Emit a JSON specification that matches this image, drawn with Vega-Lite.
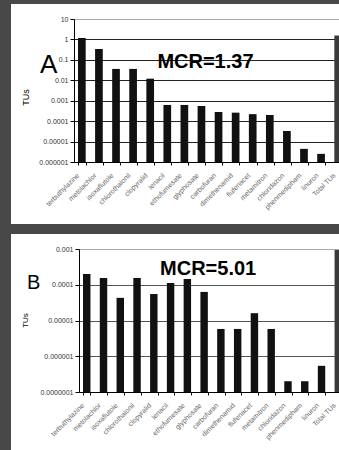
{
  "$schema": "https://vega.github.io/schema/vega-lite/v6.json",
  "background": "#484848",
  "padding": {"left": 8, "top": 4, "right": 0, "bottom": 0},
  "spacing": 10,
  "config": {
    "view": {"fill": "white", "stroke": null},
    "font": "Liberation Sans",
    "axis": {"labelFont": "Liberation Sans", "titleFont": "Liberation Sans"}
  },
  "datasets": {
    "A": [
      {"pesticide": "terbuthylazine", "tu": 1.17},
      {"pesticide": "metolachlor", "tu": 0.34},
      {"pesticide": "isoxaflutole", "tu": 0.036},
      {"pesticide": "chlorothalonil", "tu": 0.036},
      {"pesticide": "clopyralid", "tu": 0.012},
      {"pesticide": "lenacil", "tu": 0.00062},
      {"pesticide": "ethofumesate", "tu": 0.00062},
      {"pesticide": "glyphosate", "tu": 0.00055},
      {"pesticide": "carbofuran", "tu": 0.00028},
      {"pesticide": "dimethenamid", "tu": 0.00026},
      {"pesticide": "flufenacet", "tu": 0.00022},
      {"pesticide": "metamitron", "tu": 0.0002},
      {"pesticide": "chloridazon", "tu": 0.000033},
      {"pesticide": "phenmedipham", "tu": 0.0000044},
      {"pesticide": "linuron", "tu": 0.0000025},
      {"pesticide": "Total TUs", "tu": 1.55}
    ],
    "B": [
      {"pesticide": "terbuthylazine", "tu": 0.0002},
      {"pesticide": "metolachlor", "tu": 0.000155},
      {"pesticide": "isoxaflutole", "tu": 0.000043},
      {"pesticide": "chlorothalonil", "tu": 0.000155},
      {"pesticide": "clopyralid", "tu": 0.000055},
      {"pesticide": "lenacil", "tu": 0.000112},
      {"pesticide": "ethofumesate", "tu": 0.000145},
      {"pesticide": "glyphosate", "tu": 0.000063},
      {"pesticide": "carbofuran", "tu": 0.0000058},
      {"pesticide": "dimethenamid", "tu": 0.0000058},
      {"pesticide": "flufenacet", "tu": 0.000016},
      {"pesticide": "metamitron", "tu": 0.0000058},
      {"pesticide": "chloridazon", "tu": 0.0000002},
      {"pesticide": "phenmedipham", "tu": 0.0000002},
      {"pesticide": "linuron", "tu": 0.00000054},
      {"pesticide": "Total TUs", "tu": 0.00094}
    ]
  },
  "vconcat": [
    {
      "width": 331,
      "height": 220,
      "title": {"text": "A", "fontSize": 26, "fontWeight": "normal", "anchor": "start", "frame": "group", "offset": 0, "dx": 29, "dy": 95, "baseline": "alphabetic", "color": "#000000", "font": "Liberation Sans"},
      "data": {"name": "A"},
      "layer": [
        {
          "mark": {"type": "bar"},
          "encoding": {
            "x": {
              "field": "pesticide", "type": "nominal", "sort": null,
              "scale": {
                "domain": ["terbuthylazine", "metolachlor", "isoxaflutole", "chlorothalonil", "clopyralid", "lenacil", "ethofumesate", "glyphosate", "carbofuran", "dimethenamid", "flufenacet", "metamitron", "chloridazon", "phenmedipham", "linuron", "Total TUs"],
                "range": [63, 331], "paddingInner": 0.55, "paddingOuter": 0.117, "align": 1
              },
              "axis": {
                "title": null, "orient": "bottom", "offset": -62, "labelAngle": -45, "labelAlign": "right", "labelBaseline": "middle",
                "labelFontSize": 7, "labelColor": "#666666", "labelPadding": 9, "labelOffset": -4, "labelOverlap": false,
                "tickBand": "extent", "tickSize": 3, "tickColor": "#000000", "domainColor": "#000000", "grid": false
              }
            },
            "y": {
              "field": "tu", "type": "quantitative",
              "scale": {"type": "log", "domain": [0.000001, 10], "range": [158, 15], "nice": false},
              "axis": {
                "title": "TUs", "offset": -63, "values": [0.000001, 0.00001, 0.0001, 0.001, 0.01, 0.1, 1, 10], "format": "~r",
                "labelFontSize": 7, "labelColor": "#333333", "labelPadding": 2, "labelOverlap": false,
                "tickSize": 4, "tickColor": "#000000", "domainColor": "#000000",
                "grid": true, "gridColor": {"condition": {"test": "datum.value === 10", "value": "#aaaaaa"}, "value": "#222222"},
                "titleFontSize": 9, "titleFontWeight": "normal", "titleColor": "#000000", "titleX": -49, "titleY": 93, "titleAlign": "center", "titleBaseline": "middle", "titleAngle": -90
              }
            },
            "y2": {"datum": 0.000001},
            "color": {"condition": {"test": "datum.pesticide === 'Total TUs'", "value": "#3a3a3a"}, "value": "#111111"}
          }
        },
        {
          "data": {"values": [{"label": "MCR=1.37"}]},
          "mark": {"type": "text", "fontSize": 20, "fontWeight": "bold", "align": "center", "baseline": "alphabetic", "dx": 4, "color": "#000000"},
          "encoding": {
            "x": {"datum": "glyphosate"},
            "y": {"datum": 0.04},
            "text": {"field": "label"}
          }
        }
      ]
    },
    {
      "width": 331,
      "height": 216,
      "title": {"text": "B", "fontSize": 20, "fontWeight": "normal", "anchor": "start", "frame": "group", "offset": 0, "dx": 16, "dy": 75, "baseline": "alphabetic", "color": "#000000", "font": "Liberation Sans"},
      "data": {"name": "B"},
      "layer": [
        {
          "mark": {"type": "bar"},
          "encoding": {
            "x": {
              "field": "pesticide", "type": "nominal", "sort": null,
              "scale": {
                "domain": ["terbuthylazine", "metolachlor", "isoxaflutole", "chlorothalonil", "clopyralid", "lenacil", "ethofumesate", "glyphosate", "carbofuran", "dimethenamid", "flufenacet", "metamitron", "chloridazon", "phenmedipham", "linuron", "Total TUs"],
                "range": [68, 331], "paddingInner": 0.557, "paddingOuter": 0.12, "align": 1
              },
              "axis": {
                "title": null, "orient": "bottom", "offset": -58, "labelAngle": -45, "labelAlign": "right", "labelBaseline": "middle",
                "labelFontSize": 7, "labelColor": "#666666", "labelPadding": 9, "labelOffset": -4, "labelOverlap": false,
                "tickBand": "extent", "tickSize": 3, "tickColor": "#000000", "domainColor": "#000000", "grid": false
              }
            },
            "y": {
              "field": "tu", "type": "quantitative",
              "scale": {"type": "log", "domain": [0.0000001, 0.001], "range": [158, 15], "nice": false},
              "axis": {
                "title": "TUs", "offset": -68, "values": [0.0000001, 0.000001, 0.00001, 0.0001, 0.001], "format": "~r",
                "labelFontSize": 7, "labelColor": "#333333", "labelPadding": 2, "labelOverlap": false,
                "tickSize": 4, "tickColor": "#000000", "domainColor": "#000000",
                "grid": true, "gridColor": {"condition": {"test": "datum.value === 0.001", "value": "#aaaaaa"}, "value": "#555555"},
                "titleFontSize": 8, "titleFontWeight": "normal", "titleColor": "#000000", "titleX": -54, "titleY": 86, "titleAlign": "center", "titleBaseline": "middle", "titleAngle": -90
              }
            },
            "y2": {"datum": 0.0000001},
            "color": {"condition": {"test": "datum.pesticide === 'Total TUs'", "value": "#3a3a3a"}, "value": "#111111"}
          }
        },
        {
          "data": {"values": [{"label": "MCR=5.01"}]},
          "mark": {"type": "text", "fontSize": 20, "fontWeight": "bold", "align": "center", "baseline": "alphabetic", "dx": 4, "color": "#000000"},
          "encoding": {
            "x": {"datum": "glyphosate"},
            "y": {"datum": 0.000187},
            "text": {"field": "label"}
          }
        }
      ]
    }
  ]
}
